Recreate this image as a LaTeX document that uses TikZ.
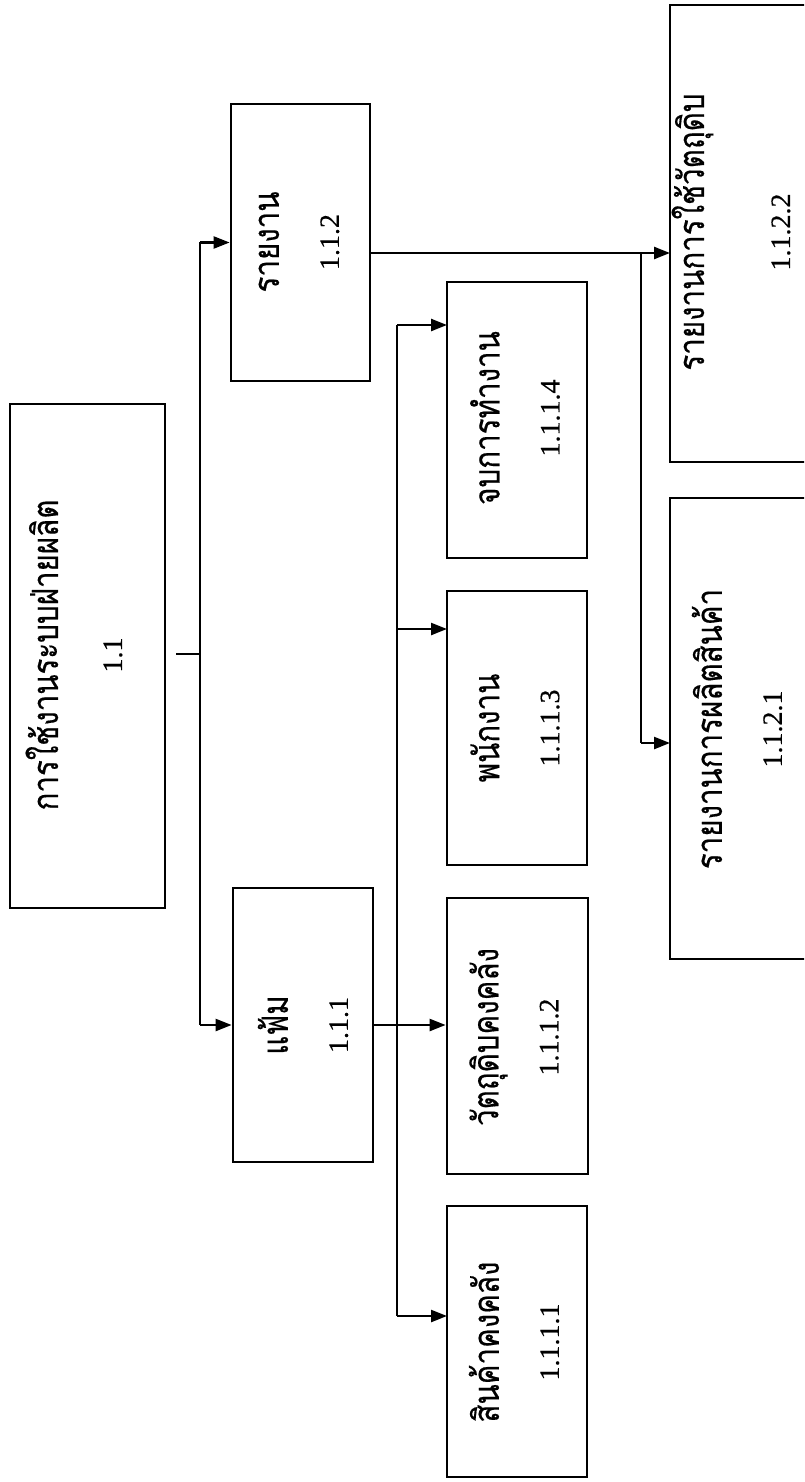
\documentclass[tikz,border=0pt]{standalone}
\usepackage{fontspec}
\setmainfont{Liberation Serif}[FakeBold=0.4]
\newfontfamily\thai[Script=Thai, FakeStretch=0.82, FakeBold=0.4]{Loma}
\newcommand{\thtxt}[1]{{\thai\fontsize{18}{30}\selectfont #1}}
\usetikzlibrary{arrows.meta,fit}
\begin{document}
\begin{tikzpicture}[x=0.5pt,y=-0.5pt,
  box/.style={draw, line width=1.4pt, inner sep=0pt},
  conn/.style={line width=1.2pt},
  arr/.style={conn, -{Triangle[length=8pt,width=6pt]}},
  lbl/.style={rotate=90, align=center, font=\fontsize{14}{30}\selectfont}]
\clip (0,0) rectangle (804,1482);
\fill[white] (0,0) rectangle (804,1482);
% boxes
\node[box, fit={(10,404) (165,908)}] (root) {};
\node[box, fit={(231,104) (370,381)}] (n112) {};
\node[box, fit={(233,888) (373,1162)}] (n111) {};
\node[box, fit={(447,282) (587,558)}] (n1114) {};
\node[box, fit={(447,591) (587,865)}] (n1113) {};
\node[box, fit={(447,898) (588,1174)}] (n1112) {};
\node[box, fit={(447,1206) (587,1477)}] (n1111) {};
\node[box, fit={(670,5) (840,462)}] (n1122) {};
\node[box, fit={(670,498) (840,959)}] (n1121) {};
% labels
\node[lbl] (troot) at (74,655) {\thtxt{การใช้งานระบบฝ่ายผลิต}\\[2pt]1.1};
\node[lbl] (t112) at (299,242) {\thtxt{รายงาน}\\1.1.2};
\node[lbl] (t111) at (303,1025) {\thtxt{แฟ้ม}\\1.1.1};
\node[lbl] (t1114) at (515,418) {\thtxt{จบการทำงาน}\\1.1.1.4};
\node[lbl] (t1113) at (515,728) {\thtxt{พนักงาน}\\1.1.1.3};
\node[lbl] (t1112) at (514,1037) {\thtxt{วัตถุดิบคงคลัง}\\1.1.1.2};
\node[lbl] (t1111) at (514,1342) {\thtxt{สินค้าคงคลัง}\\1.1.1.1};
\node[lbl] (t1122) at (731,232) {\thtxt{รายงานการใช้วัตถุดิบ}\\[13pt]1.1.2.2};
\node[lbl] (t1121) at (737,729) {\thtxt{รายงานการผลิตสินค้า}\\1.1.2.1};
% junction coordinates
\coordinate (bus1) at (200,654);
\coordinate (bus2) at (397,654);
\coordinate (bus3) at (641,654);
\coordinate (a1114) at (447,325);
\coordinate (a1113) at (447,629);
\coordinate (a1111) at (447,1316);
\coordinate (a1122) at (670,253);
\coordinate (a1121) at (670,743);
% connectors level 1
\draw[conn, shorten <=5pt] (root.east |- bus1) -- (bus1);
\draw[conn] (n112.west -| bus1) -- (n111.west -| bus1);
\draw[arr] (n112.west -| bus1) -- (n112.west);
\draw[arr] (n111.west -| bus1) -- (n111.west);
% connectors under 1.1.1
\draw[arr] (n111.east) -- (n111.east -| n1112.west);
\draw[conn] (a1114 -| bus2) -- (a1111 -| bus2);
\draw[arr] (a1114 -| bus2) -- (a1114);
\draw[arr] (a1113 -| bus2) -- (a1113);
\draw[arr] (a1111 -| bus2) -- (a1111);
% connectors under 1.1.2
\draw[arr] (n112.east |- a1122) -- (a1122);
\draw[conn] (a1122 -| bus3) -- (a1121 -| bus3);
\draw[arr] (a1121 -| bus3) -- (a1121);
\end{tikzpicture}
\end{document}
